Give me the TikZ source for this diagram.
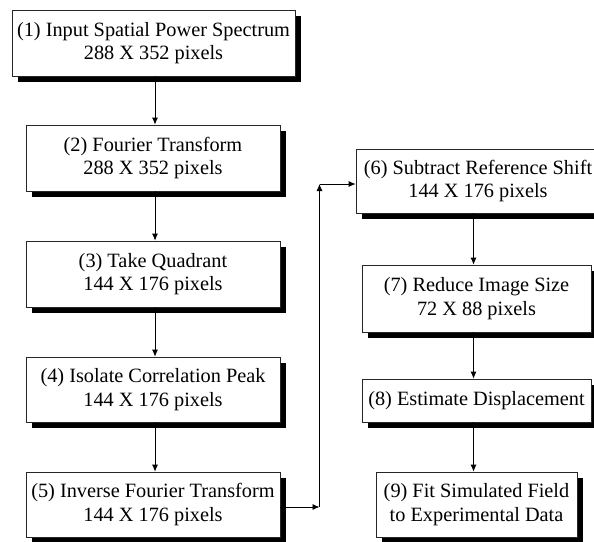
\documentclass[tikz,border=0pt]{standalone}
\usepackage{fontspec}
\setmainfont{Liberation Serif}
\usetikzlibrary{shadows,arrows.meta}

\tikzset{
  stage/.style={draw=black!85, line width=0.7pt, fill=white, inner sep=0pt,
    align=center, font=\fontsize{20.3}{23.5}\selectfont,
    drop shadow={shadow xshift=5.5pt, shadow yshift=-5.5pt, fill=black, opacity=1}},
  flow/.style={line width=0.8pt, -{Latex[length=7pt,width=6pt]}}
}

\begin{document}
\begin{tikzpicture}[x=1pt, y=-1pt]
\useasboundingbox (0,0) rectangle (594,541);

% left column
\node[stage, minimum width=283pt, minimum height=66pt] (b1) at (153.5,43)
  {(1) Input Spatial Power Spectrum\\288 X 352 pixels};
\node[stage, minimum width=254pt, minimum height=66pt] (b2) at (153,158)
  {(2) Fourier Transform\\288 X 352 pixels};
\node[stage, minimum width=254pt, minimum height=66pt] (b3) at (153,274)
  {(3) Take Quadrant\\144 X 176 pixels};
\node[stage, minimum width=254pt, minimum height=65pt] (b4) at (153,389.5)
  {(4) Isolate Correlation Peak\\144 X 176 pixels};
\node[stage, minimum width=254pt, minimum height=65pt] (b5) at (153,504.5)
  {(5) Inverse Fourier Transform\\144 X 176 pixels};

% right column
\node[stage, minimum width=244pt, minimum height=64pt] (b6) at (478,181)
  {(6) Subtract Reference Shift\\144 X 176 pixels};
\node[stage, minimum width=229pt, minimum height=67pt] (b7) at (476.5,298.5)
  {(7) Reduce Image Size\\72 X 88 pixels};
\node[stage, minimum width=229pt, minimum height=43pt] (b8) at (476.5,400.5)
  {(8) Estimate Displacement};
\node[stage, minimum width=201pt, minimum height=65pt] (b9) at (476.5,504.5)
  {(9) Fit Simulated Field\\to Experimental Data};

% column axes for the vertical connectors
\coordinate (colL) at (155,0);
\coordinate (colR) at (473.5,0);

\draw[flow] (b1.south -| colL) -- (b2.north -| colL);
\draw[flow] (b2.south -| colL) -- (b3.north -| colL);
\draw[flow] (b3.south -| colL) -- (b4.north -| colL);
\draw[flow] (b4.south -| colL) -- (b5.north -| colL);

\draw[flow] (b6.south -| colR) -- (b7.north -| colR);
\draw[flow] (b7.south -| colR) -- (b8.north -| colR);
\draw[flow] (b8.south -| colR) -- (b9.north -| colR);

% feedback route from stage 5 to stage 6
\coordinate (r1) at (319.5,507);
\coordinate (r2) at (319.5,184);
\draw[flow] (b5.east |- r1) -- (r1);
\draw[flow] (r1) -- (r2);
\draw[flow] (r2) -- (b6.west |- r2);
\end{tikzpicture}
\end{document}
